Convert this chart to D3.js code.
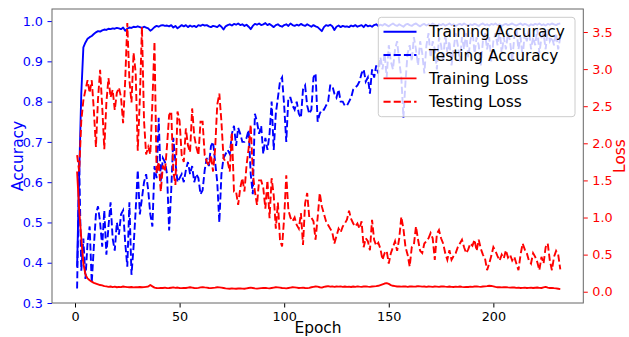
<!DOCTYPE html>
<html>
<head>
<meta charset="utf-8">
<script src="https://cdn.jsdelivr.net/npm/d3@7"></script>
<style>
  html, body { margin: 0; padding: 0; background: #fff; }
  svg { display: block; font-family: "DejaVu Sans", sans-serif; }
</style>
</head>
<body>
<svg id="chart" width="629" height="337"></svg>
<script>
// ---- data ----
const trainAcc = [
0.39,0.62,0.82,0.935,0.947,0.956,0.960,0.963,0.968,0.972,
0.975,0.974,0.977,0.979,0.978,0.981,0.980,0.982,0.981,0.983,
0.982,0.980,0.984,0.976,0.981,0.984,0.983,0.986,0.985,0.987,
0.985,0.983,0.986,0.984,0.982,0.976,0.980,0.985,0.988,0.986,
0.989,0.990,0.988,0.989,0.987,0.990,0.984,0.988,0.982,0.986,
0.990,0.987,0.990,0.985,0.989,0.986,0.988,0.985,0.990,0.988,
0.991,0.989,0.990,0.987,0.985,0.988,0.987,0.985,0.990,0.986,
0.979,0.987,0.990,0.992,0.989,0.993,0.991,0.994,0.990,0.992,
0.988,0.991,0.986,0.980,0.988,0.993,0.991,0.994,0.990,0.992,
0.995,0.990,0.993,0.989,0.985,0.990,0.992,0.988,0.986,0.990,
0.992,0.988,0.994,0.990,0.988,0.991,0.989,0.993,0.990,0.988,
0.992,0.989,0.986,0.990,0.987,0.985,0.980,0.975,0.985,0.990,
0.988,0.991,0.987,0.978,0.986,0.989,0.985,0.988,0.986,0.987,
0.985,0.989,0.987,0.990,0.986,0.988,0.990,0.985,0.991,0.987,
0.989,0.986,0.990,0.992,0.988,0.991,0.989,0.993,0.990,0.987,
0.991,0.994,0.990,0.988,0.992,0.989,0.986,0.991,0.993,0.990,
0.988,0.992,0.994,0.990,0.987,0.991,0.993,0.989,0.992,0.990,
0.994,0.991,0.988,0.992,0.990,0.993,0.989,0.991,0.994,0.990,
0.992,0.988,0.991,0.993,0.990,0.994,0.991,0.989,0.992,0.990,
0.993,0.991,0.988,0.992,0.994,0.990,0.992,0.989,0.993,0.991,
0.994,0.990,0.992,0.988,0.991,0.993,0.990,0.992,0.994,0.991,
0.989,0.992,0.994,0.990,0.993,0.991,0.988,0.992,0.990,0.993,
0.991,0.994,0.990,0.992,0.989,0.993,0.991,0.994,0.992,0.990,
0.993,0.994];

const testAcc = [
0.336,0.65,0.38,0.46,0.36,0.45,0.49,0.35,0.44,0.52,
0.54,0.50,0.44,0.53,0.42,0.49,0.55,0.46,0.43,0.50,
0.47,0.52,0.53,0.45,0.39,0.55,0.37,0.44,0.53,0.63,
0.52,0.56,0.60,0.62,0.58,0.52,0.49,0.64,0.61,0.76,
0.60,0.66,0.65,0.62,0.48,0.58,0.71,0.65,0.60,0.61,
0.62,0.60,0.63,0.65,0.62,0.64,0.60,0.62,0.61,0.57,
0.58,0.63,0.66,0.64,0.69,0.70,0.65,0.60,0.50,0.62,
0.66,0.67,0.68,0.67,0.72,0.74,0.69,0.735,0.72,0.70,
0.70,0.71,0.73,0.62,0.57,0.77,0.75,0.72,0.74,0.67,
0.71,0.68,0.72,0.80,0.68,0.77,0.81,0.85,0.86,0.79,
0.70,0.81,0.81,0.79,0.78,0.80,0.77,0.76,0.83,0.84,
0.79,0.77,0.78,0.86,0.87,0.75,0.77,0.78,0.78,0.79,
0.80,0.84,0.84,0.82,0.81,0.83,0.80,0.80,0.79,0.79,
0.80,0.81,0.83,0.835,0.84,0.85,0.87,0.88,0.85,0.86,
0.82,0.88,0.86,0.89,0.87,0.91,0.88,0.92,0.86,0.94,
0.90,0.88,0.93,0.95,0.90,0.86,0.76,0.85,0.92,0.94,
0.90,0.96,0.93,0.89,0.95,0.92,0.87,0.94,0.97,0.91,
0.95,0.93,0.88,0.96,0.94,0.90,0.97,0.92,0.95,0.89,
0.93,0.97,0.94,0.90,0.96,0.93,0.97,0.91,0.95,0.98,
0.92,0.96,0.94,0.89,0.95,0.97,0.93,0.96,0.90,0.95,
0.97,0.94,0.98,0.92,0.96,0.93,0.97,0.95,0.90,0.96,
0.98,0.93,0.96,0.91,0.97,0.95,0.98,0.93,0.96,0.94,
0.98,0.92,0.96,0.97,0.93,0.98,0.95,0.96,0.94,0.97,
0.93,0.96];

const trainLoss = [
1.62,1.10,0.72,0.38,0.23,0.18,0.155,0.135,0.12,0.11,
0.10,0.09,0.085,0.075,0.072,0.065,0.07,0.062,0.068,0.06,
0.065,0.062,0.07,0.066,0.062,0.06,0.063,0.058,0.062,0.06,
0.064,0.06,0.062,0.066,0.07,0.09,0.072,0.055,0.05,0.048,
0.052,0.05,0.055,0.048,0.05,0.054,0.058,0.052,0.056,0.05,
0.048,0.052,0.05,0.055,0.06,0.055,0.05,0.048,0.052,0.058,
0.062,0.058,0.055,0.05,0.048,0.052,0.055,0.06,0.058,0.055,
0.05,0.045,0.042,0.04,0.045,0.042,0.04,0.043,0.045,0.042,
0.04,0.045,0.05,0.055,0.05,0.045,0.042,0.045,0.048,0.05,
0.052,0.048,0.045,0.05,0.055,0.06,0.058,0.055,0.05,0.048,
0.045,0.05,0.055,0.06,0.058,0.055,0.05,0.052,0.055,0.05,
0.048,0.052,0.06,0.065,0.07,0.068,0.06,0.055,0.065,0.07,
0.075,0.068,0.072,0.065,0.07,0.068,0.072,0.066,0.07,0.065,
0.068,0.064,0.07,0.066,0.072,0.068,0.065,0.07,0.072,0.068,
0.066,0.07,0.072,0.075,0.08,0.09,0.10,0.11,0.115,0.105,
0.09,0.08,0.075,0.07,0.072,0.068,0.07,0.072,0.066,0.07,
0.072,0.068,0.07,0.075,0.072,0.068,0.07,0.066,0.07,0.068,
0.065,0.07,0.068,0.066,0.07,0.072,0.068,0.065,0.07,0.066,
0.064,0.068,0.066,0.07,0.065,0.062,0.066,0.064,0.068,0.065,
0.07,0.072,0.068,0.066,0.07,0.072,0.075,0.08,0.078,0.072,
0.065,0.06,0.062,0.058,0.06,0.062,0.058,0.055,0.058,0.056,
0.052,0.055,0.05,0.052,0.055,0.05,0.052,0.055,0.05,0.054,
0.056,0.052,0.05,0.058,0.065,0.055,0.05,0.052,0.048,0.045,
0.04,0.035];

const testLoss = [
1.84,1.62,2.30,2.58,2.72,2.85,2.68,2.85,2.45,1.95,
2.60,2.99,2.50,1.92,2.55,2.88,2.62,2.72,2.45,2.68,
2.75,2.62,2.27,2.85,3.62,2.85,2.55,3.22,2.95,1.90,
2.60,3.57,2.30,1.85,1.95,1.85,2.55,3.37,1.60,1.75,
1.35,1.70,1.62,1.97,2.38,2.43,1.62,1.44,2.43,2.30,
1.84,1.75,2.20,1.97,1.88,2.47,2.10,1.95,1.84,2.29,
2.29,1.84,1.75,1.70,1.84,1.62,1.93,2.52,2.67,2.29,
1.80,1.75,1.75,1.62,2.15,1.35,1.35,1.17,1.40,1.53,
1.35,1.70,1.93,2.25,1.60,1.35,1.17,1.50,1.50,1.40,
1.12,1.50,0.99,1.53,1.30,0.85,1.20,0.70,0.61,1.00,
1.57,1.10,1.00,0.95,1.00,0.90,0.85,1.06,0.63,1.19,
1.33,1.00,1.00,0.95,0.70,1.00,1.33,1.15,1.05,0.95,
0.90,0.85,0.80,0.65,0.75,0.85,0.80,0.88,0.92,0.97,
1.09,0.98,0.92,0.88,0.92,0.85,0.95,0.60,0.72,0.68,
0.56,0.97,0.70,0.62,0.66,0.58,0.43,0.52,0.55,0.38,
0.52,0.60,0.68,0.55,0.72,1.01,0.85,0.60,0.50,0.34,
0.60,0.63,0.88,0.70,0.55,0.52,0.65,0.68,0.72,0.79,
0.72,0.43,0.78,0.83,0.72,0.65,0.52,0.43,0.56,0.43,
0.48,0.52,0.60,0.65,0.70,0.60,0.52,0.57,0.65,0.62,
0.70,0.55,0.70,0.58,0.50,0.45,0.29,0.38,0.48,0.60,
0.55,0.48,0.42,0.50,0.45,0.56,0.46,0.50,0.42,0.47,
0.38,0.29,0.50,0.65,0.57,0.52,0.42,0.38,0.52,0.47,
0.40,0.29,0.47,0.38,0.60,0.65,0.42,0.29,0.47,0.55,
0.50,0.30];

const epochs = trainAcc.map((d, i) => i + 1);
const xTicks = [0, 50, 100, 150, 200];
const accTicks = [0.3, 0.4, 0.5, 0.6, 0.7, 0.8, 0.9, 1.0];
const lossTicks = [0.0, 0.5, 1.0, 1.5, 2.0, 2.5, 3.0, 3.5];
const seriesNames = ["Training Accuracy", "Testing Accuracy", "Training Loss", "Testing Loss"];

// ---- layout ----
const L = 52, R = 583.3, T = 9, B = 303;
const BLUE = "#0000ff", RED = "#ff0000";
const svg = d3.select("#chart");

const x = d3.scaleLinear().domain([-11, 243]).range([L, R]);
const yA = d3.scaleLinear().domain([0.3, 1.03]).range([B, T]);
const yL = d3.scaleLinear().domain([-0.152, 3.81]).range([B, T]);

svg.append("defs").append("clipPath").attr("id", "clip")
  .append("rect").attr("x", L).attr("y", T).attr("width", R - L).attr("height", B - T);

const plot = svg.append("g").attr("clip-path", "url(#clip)");

const lineA = d3.line().x((d, i) => x(epochs[i])).y(d => yA(d));
const lineL = d3.line().x((d, i) => x(epochs[i])).y(d => yL(d));
const dash = "7.1,3.1";

plot.append("path").datum(trainAcc).attr("d", lineA)
  .attr("fill", "none").attr("stroke", BLUE).attr("stroke-width", 1.9).attr("stroke-linejoin", "round");
plot.append("path").datum(testAcc).attr("d", lineA)
  .attr("fill", "none").attr("stroke", BLUE).attr("stroke-width", 1.9).attr("stroke-dasharray", dash);
plot.append("path").datum(trainLoss).attr("d", lineL)
  .attr("fill", "none").attr("stroke", RED).attr("stroke-width", 1.9).attr("stroke-linejoin", "round");
plot.append("path").datum(testLoss).attr("d", lineL)
  .attr("fill", "none").attr("stroke", RED).attr("stroke-width", 1.9).attr("stroke-dasharray", dash);

// ---- axes ----
const fs = 12.8;
const gx = svg.append("g").attr("transform", `translate(0,${B})`)
  .call(d3.axisBottom(x).tickValues(xTicks).tickFormat(d3.format("d")).tickSizeOuter(0).tickSize(4.5).tickPadding(4.5));
gx.select(".domain").remove();
gx.selectAll("line").attr("stroke", "#000").attr("stroke-width", 1);
gx.selectAll("text").attr("font-size", fs).attr("fill", "#000").attr("font-family", "DejaVu Sans");

const gyA = svg.append("g").attr("transform", `translate(${L},0)`)
  .call(d3.axisLeft(yA).tickValues(accTicks).tickFormat(d3.format(".1f")).tickSizeOuter(0).tickSize(4.5).tickPadding(4.5));
gyA.select(".domain").remove();
gyA.selectAll("line").attr("stroke", BLUE).attr("stroke-width", 1);
gyA.selectAll("text").attr("font-size", fs).attr("fill", BLUE).attr("font-family", "DejaVu Sans");

const gyL = svg.append("g").attr("transform", `translate(${R},0)`)
  .call(d3.axisRight(yL).tickValues(lossTicks).tickFormat(d3.format(".1f")).tickSizeOuter(0).tickSize(4.5).tickPadding(4.5));
gyL.select(".domain").remove();
gyL.selectAll("line").attr("stroke", RED).attr("stroke-width", 1);
gyL.selectAll("text").attr("font-size", fs).attr("fill", RED).attr("font-family", "DejaVu Sans");

// frame
svg.append("rect").attr("x", L).attr("y", T).attr("width", R - L).attr("height", B - T)
  .attr("fill", "none").attr("stroke", "#666").attr("stroke-width", 1);

// axis labels
const lfs = 15.4;
svg.append("text").attr("x", 318).attr("y", 333.2).attr("text-anchor", "middle")
  .attr("font-size", lfs).attr("fill", "#000").text("Epoch");
svg.append("text").attr("transform", `translate(22.5,${(T + B) / 2}) rotate(-90)`).attr("text-anchor", "middle")
  .attr("font-size", lfs).attr("fill", BLUE).text("Accuracy");
svg.append("text").attr("transform", `translate(624.5,${(T + B) / 2}) rotate(-90)`).attr("text-anchor", "middle")
  .attr("font-size", lfs).attr("fill", RED).text("Loss");

// ---- legend ----
const lg = svg.append("g");
lg.append("rect").attr("x", 378.3).attr("y", 17.3).attr("width", 196.7).attr("height", 99.4)
  .attr("rx", 3).attr("fill", "#fff").attr("fill-opacity", 0.8)
  .attr("stroke", "#cccccc").attr("stroke-width", 1);
const styles = [
  {c: BLUE, d: null}, {c: BLUE, d: dash}, {c: RED, d: null}, {c: RED, d: dash}
];
seriesNames.forEach((name, i) => {
  const cy = 31.7 + i * 23.35;
  lg.append("line").attr("x1", 383.5).attr("x2", 416.5).attr("y1", cy).attr("y2", cy)
    .attr("stroke", styles[i].c).attr("stroke-width", 1.9)
    .attr("stroke-dasharray", styles[i].d);
  lg.append("text").attr("x", 429).attr("y", cy).attr("dy", "0.36em")
    .attr("font-size", lfs).attr("fill", "#000").text(name);
});
</script>
</body>
</html>
